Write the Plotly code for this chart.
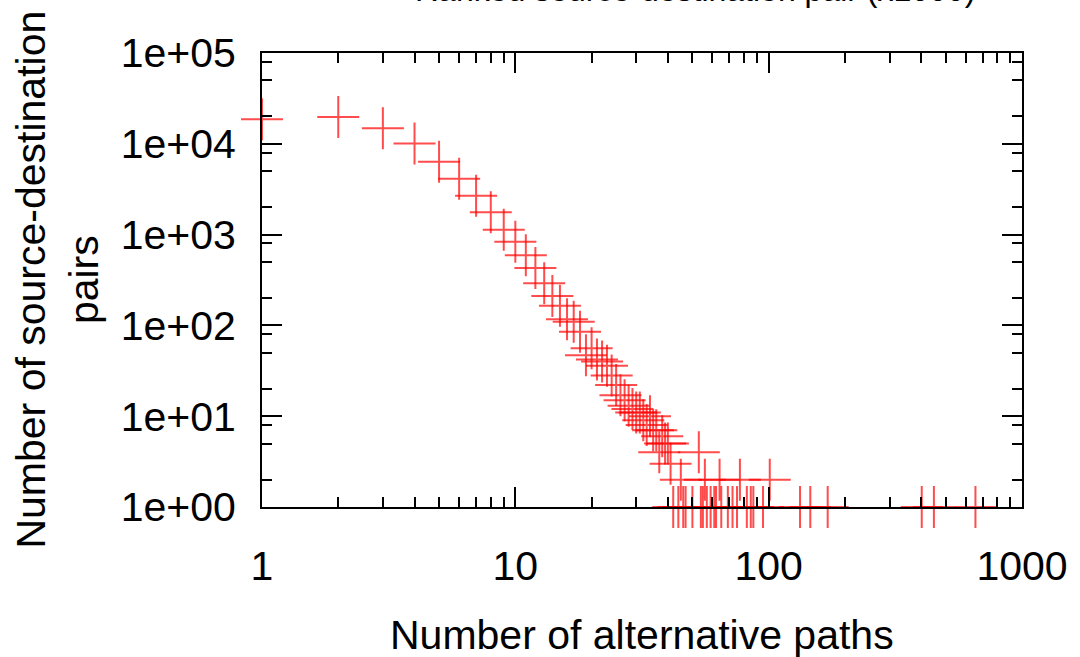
import plotly.graph_objects as go

# Number of alternative paths per source-destination pair (x) and how many pairs have it (y)
paths = [1, 2, 3, 4, 5, 6, 7, 8, 9, 10,
         11, 12, 13, 14, 15, 16, 17, 18, 19, 20,
         21, 22, 23, 24, 25, 26, 27, 28, 29, 30,
         31, 32, 33, 34, 35, 36, 37, 38, 39, 40,
         41, 42, 44, 45, 46, 47, 50, 53, 54, 55,
         56, 57, 59, 61, 62, 64, 65, 69, 72, 75,
         77, 82, 85, 87, 95, 101, 133, 146, 171, 402,
         449, 655]
pairs = [18600, 19700, 14800, 10100, 6350, 4130, 2680, 1760, 1130, 835,
         592, 430, 291, 211, 165, 117, 110, 85, 47, 56,
         42, 40, 36, 28, 22, 17, 15, 13, 12, 11,
         11, 9, 8, 10, 7, 7, 4, 6, 5, 5,
         3, 1, 1, 2, 1, 1, 1, 4, 1, 1,
         2, 1, 1, 1, 1, 2, 1, 1, 1, 1,
         2, 1, 1, 1, 1, 2, 1, 1, 1, 1,
         1, 1]

x_tickvals = [1, 10, 100, 1000]
x_ticktext = ["1", "10", "100", "1000"]
y_tickvals = [1, 10, 100, 1000, 10000, 100000]
y_ticktext = ["1e+00", "1e+01", "1e+02", "1e+03", "1e+04", "1e+05"]

FONT = "Liberation Sans, Arial, Helvetica, sans-serif"

x_minor = [d * 10 ** k for k in range(3) for d in range(2, 10)]
y_minor = [d * 10 ** k for k in range(5) for d in (2, 5, 8)]

fig = go.Figure()
fig.add_trace(go.Scatter(
    x=paths, y=pairs, mode="markers", cliponaxis=False,
    marker=dict(symbol="cross-thin", size=30, color="rgba(255,0,0,0.7)",
                line=dict(color="rgba(255,0,0,0.7)", width=2)),
    showlegend=False,
))

axis_common = dict(
    type="log", showgrid=False, zeroline=False,
    showline=True, linecolor="black", linewidth=2, mirror="allticks",
    ticks="inside", ticklen=20, tickwidth=1.5, tickcolor="black",
    tickfont=dict(family=FONT, size=41, color="black"),
)

fig.update_xaxes(
    range=[0, 3], tickmode="array", tickvals=x_tickvals, ticktext=x_ticktext,
    ticklabelstandoff=22,
    minor=dict(tickmode="array", tickvals=x_minor, ticks="inside", ticklen=10,
               tickwidth=1.5, tickcolor="black", showgrid=False),
    **axis_common,
)
fig.update_yaxes(
    range=[0, 5], tickmode="array", tickvals=y_tickvals, ticktext=y_ticktext,
    ticklabelstandoff=16,
    minor=dict(tickmode="array", tickvals=y_minor, ticks="inside", ticklen=10,
               tickwidth=1.5, tickcolor="black", showgrid=False),
    **axis_common,
)

L, R, T, B = 262, 54, 53, 150
W, H = 1080, 657
pw, ph = W - L - R, H - T - B

fig.update_layout(
    width=W, height=H,
    margin=dict(l=L, r=R, t=T, b=B, pad=0),
    paper_bgcolor="white", plot_bgcolor="white",
    font=dict(family=FONT, size=41, color="black"),
    annotations=[
        dict(text="Number of alternative paths", xref="paper", yref="paper",
             x=0.5, y=(507 - 635) / ph, xanchor="center", yanchor="middle",
             showarrow=False, font=dict(size=41)),
        dict(text="Number of source-destination<br>pairs", xref="paper", yref="paper",
             x=(55.5 - L) / pw, y=0.5, xanchor="center", yanchor="middle",
             textangle=-90, showarrow=False, font=dict(size=41)),
        dict(text="Ranked source-destination pair (x1000)", xref="paper", yref="paper",
             x=(697 - L) / pw, y=1 + (T + 10) / ph, xanchor="center", yanchor="middle",
             showarrow=False, font=dict(size=32)),
    ],
)

fig.write_html("out.html")
